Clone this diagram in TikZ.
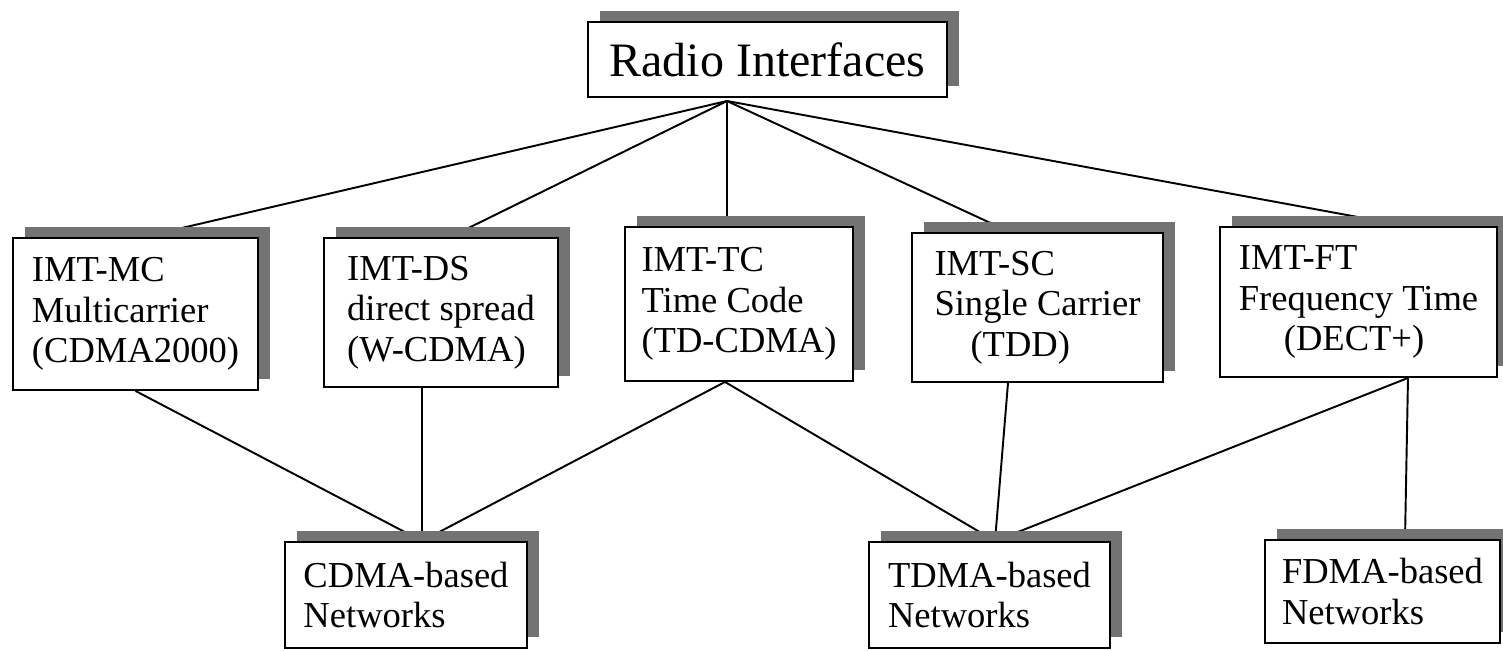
\documentclass[tikz,border=0pt]{standalone}
\usepackage{fontspec}
\setmainfont{Liberation Serif}
\usetikzlibrary{positioning,shadows,backgrounds}
\tikzset{shadowed/.style={draw, line width=1.1pt, fill=white, inner xsep=0.3cm, inner ysep=0pt, align=left, font=\fontsize{20.8}{23}\selectfont, drop shadow={shadow xshift=0.24cm, shadow yshift=0.22cm, fill=black!55, opacity=1}}}
\tikzset{link/.style={draw, line width=1.1pt}}

\begin{document}
\begin{tikzpicture}[x=0.02cm, y=-0.02cm]
    \useasboundingbox (0,0) rectangle (1503,651);
    \node[shadowed, align=center, minimum width=7.18cm, minimum height=1.5cm, font=\fontsize{27.3}{30}\selectfont] (radio) at (767.5,59.5) {Radio Interfaces};

    \node[shadowed, minimum width=4.90cm, minimum height=3.04cm] (mc) at (135.5,314) {IMT-MC\\Multicarrier\\(CDMA2000)};
    \node[shadowed, minimum width=4.68cm, minimum height=2.98cm] (ds) at (441,312.5) {IMT-DS\\direct spread\\(W-CDMA)};
    \node[shadowed, minimum width=4.56cm, minimum height=3.08cm] (tc) at (739,304) {IMT-TC\\Time Code\\(TD-CDMA)};
    \node[shadowed, minimum width=5.02cm, minimum height=2.98cm] (sc) at (1037.5,307.5) {IMT-SC\\Single Carrier\\\hspace*{0.72cm}(TDD)};
    \node[shadowed, minimum width=5.54cm, minimum height=3.00cm] (ft) at (1358.5,302) {IMT-FT\\Frequency Time\\\hspace*{0.9cm}(DECT+)};

    \node[shadowed, minimum width=4.84cm, minimum height=2.12cm] (cdma) at (406,595) {CDMA-based\\Networks};
    \node[shadowed, minimum width=4.82cm, minimum height=2.12cm] (tdma) at (989.5,595) {TDMA-based\\Networks};
    \node[shadowed, minimum width=4.70cm, minimum height=2.06cm] (fdma) at (1382.5,591.5) {FDMA-based\\Networks};

    \coordinate (hub) at (727,101);

    \begin{scope}[on background layer]
        \draw[link] (hub) to ([xshift=0.15cm]mc.north);
        \draw[link] (hub) to ([xshift=0.18cm]ds.north);
        \draw[link] (hub) to ([xshift=-0.24cm]tc.north);
        \draw[link] (hub) to ([xshift=-0.55cm]sc.north);
        \draw[link] (hub) to ([xshift=0.97cm]ft.north);

        \draw[link] (mc.south) to ([xshift=0.32cm]cdma.north);
        \draw[link] ([xshift=-0.38cm]ds.south) to ([xshift=0.32cm]cdma.north);
        \draw[link] ([xshift=-0.28cm]tc.south) to ([xshift=0.32cm]cdma.north);
        \draw[link] ([xshift=-0.28cm]tc.south) to ([xshift=0.11cm]tdma.north);
        \draw[link] ([xshift=-0.59cm]sc.south) to ([xshift=0.11cm]tdma.north);
        \draw[link] ([xshift=0.99cm]ft.south) to ([xshift=0.11cm]tdma.north);
        \draw[link] ([xshift=0.99cm]ft.south) to ([xshift=0.45cm]fdma.north);
    \end{scope}
\end{tikzpicture}
\end{document}
